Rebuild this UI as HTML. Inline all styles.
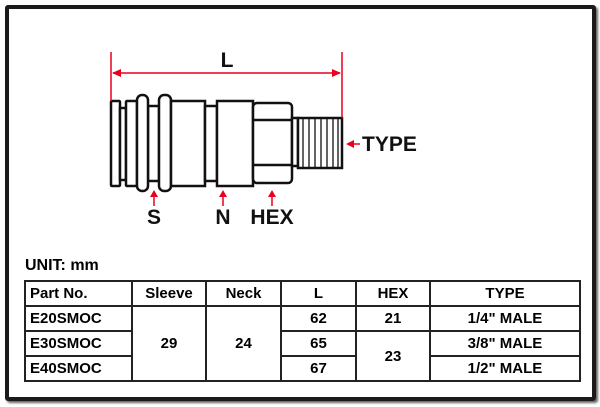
<!DOCTYPE html><html><head><style>
body{margin:0;width:600px;height:407px;background:#fff;font-family:"Liberation Sans",Arial,sans-serif;overflow:hidden;position:relative}
.frame{position:absolute;left:5px;top:5px;width:583px;height:388px;border:4px solid #1a1a1a;border-radius:3px;box-shadow:2px 2px 2px #666}
table{position:absolute;left:24px;top:280px;border-collapse:collapse;font-weight:bold;font-size:15px}
td{border:2px solid #222;height:23px;padding:0;text-align:center}
td.l{text-align:left;padding-left:4px}
.unit{position:absolute;left:25px;top:257px;font-weight:bold;font-size:16px}
</style></head><body>
<div class="frame"></div>
<svg width="600" height="407" style="position:absolute;left:0;top:0">
<g fill="#fff" stroke="#111" stroke-width="2.5">
<rect x="111" y="101" width="9" height="85" rx="1"/>
<rect x="120" y="108" width="6" height="72"/>
<rect x="126" y="101" width="11" height="85" rx="1"/>
<rect x="148" y="106" width="11" height="75"/>
<rect x="137" y="95" width="11" height="96" rx="5"/>
<rect x="159" y="95" width="12" height="96" rx="5"/>
<rect x="171" y="101" width="34" height="85"/>
<rect x="205" y="106" width="12" height="75"/>
<rect x="217" y="101" width="36" height="85"/>
<rect x="253" y="103" width="39" height="80" rx="4"/>
<line x1="253" y1="120" x2="292" y2="120"/>
<line x1="253" y1="165" x2="292" y2="165"/>
<rect x="292" y="118" width="6" height="48"/>
<rect x="298" y="118" width="44" height="50"/>
</g>
<g stroke="#111" stroke-width="1.3">
<line x1="303" y1="118" x2="303" y2="168"/><line x1="309" y1="118" x2="309" y2="168"/><line x1="315" y1="118" x2="315" y2="168"/><line x1="321" y1="118" x2="321" y2="168"/><line x1="327" y1="118" x2="327" y2="168"/><line x1="333" y1="118" x2="333" y2="168"/><line x1="338" y1="118" x2="338" y2="168"/>
</g>
<g stroke="#e8001c" stroke-width="1.5" fill="#e8001c">
<line x1="111" y1="52" x2="111" y2="101"/>
<line x1="342" y1="52" x2="342" y2="118"/>
<line x1="113" y1="73" x2="340" y2="73"/>
<polygon points="112,73 121,69 121,77" stroke="none"/>
<polygon points="341,73 332,69 332,77" stroke="none"/>
<line x1="348" y1="144" x2="360" y2="144"/>
<polygon points="346,144 354,140 354,148" stroke="none"/>
<line x1="154" y1="193" x2="154" y2="206"/><polygon points="154,190 150,197 158,197" stroke="none"/>
<line x1="223" y1="193" x2="223" y2="206"/><polygon points="223,190 219,197 227,197" stroke="none"/>
<line x1="272" y1="193" x2="272" y2="206"/><polygon points="272,190 268,197 276,197" stroke="none"/>
</g>
<g font-family="Liberation Sans,Arial,sans-serif" font-weight="bold" font-size="21" fill="#111">
<text x="227" y="67" text-anchor="middle">L</text>
<text x="362" y="151">TYPE</text>
<text x="154" y="224" text-anchor="middle">S</text>
<text x="223" y="224" text-anchor="middle">N</text>
<text x="272" y="224" text-anchor="middle">HEX</text>
</g>
</svg>
<div class="unit">UNIT: mm</div>
<table>
<tr><td class="l" style="width:101px">Part No.</td><td style="width:72px">Sleeve</td><td style="width:73px">Neck</td><td style="width:73px">L</td><td style="width:72px">HEX</td><td style="width:148px">TYPE</td></tr>
<tr><td class="l">E20SMOC</td><td rowspan="3">29</td><td rowspan="3">24</td><td>62</td><td>21</td><td>1/4" MALE</td></tr>
<tr><td class="l">E30SMOC</td><td>65</td><td rowspan="2">23</td><td>3/8" MALE</td></tr>
<tr><td class="l">E40SMOC</td><td>67</td><td>1/2" MALE</td></tr>
</table>
</body></html>
